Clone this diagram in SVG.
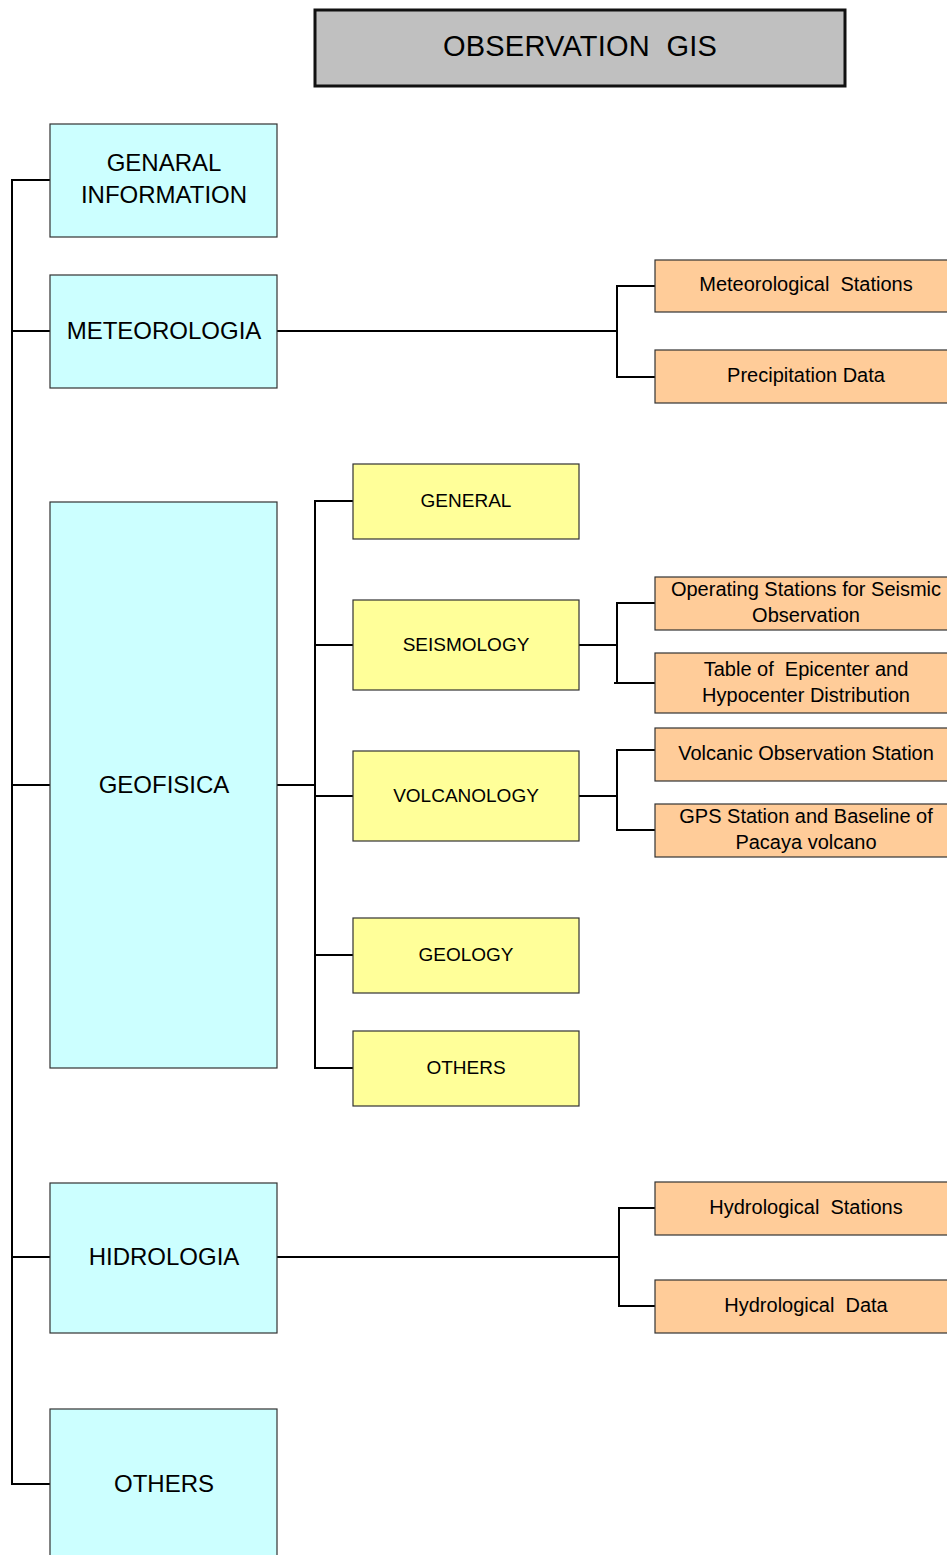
<svg xmlns="http://www.w3.org/2000/svg" width="947" height="1555" viewBox="0 0 947 1555">
  <style>
    text { font-family: "Liberation Sans", Arial, sans-serif; fill: #000; text-anchor: middle; dominant-baseline: central; white-space: pre; }
    .title rect { fill: #c0c0c0; stroke: #111; stroke-width: 3; }
    .title text { font-size: 29px; letter-spacing: 0.2px; }
    .main rect { fill: #ccffff; stroke: #333; stroke-width: 1.2; }
    .main text { font-size: 24px; }
    .sub rect { fill: #ffff99; stroke: #333; stroke-width: 1.2; }
    .sub text { font-size: 19px; }
    .leaf rect { fill: #ffcc99; stroke: #333; stroke-width: 1.2; }
    .leaf text { font-size: 20px; }
    #connectors path { fill: none; stroke: #000; stroke-width: 2; }
  </style>

  <!-- Connectors -->
  <g id="connectors">
    <!-- main spine -->
    <path d="M50,180 H12 V1484 H50 M12,331 H50 M12,785 H50 M12,1257 H50"/>
    <!-- meteorologia branch -->
    <path d="M277,331 H617 M655,286 H617 V377 H655"/>
    <!-- geofisica branch -->
    <path d="M277,785 H315 M353,501 H315 V1068 H353 M315,645 H353 M315,796 H353 M315,955 H353"/>
    <!-- seismology branch -->
    <path d="M579,645 H617 M655,603 H617 V683 H655 M614,683 H617"/>
    <!-- volcanology branch -->
    <path d="M579,796 H617 M655,750 H617 V830 H655"/>
    <!-- hidrologia branch -->
    <path d="M277,1257 H619 M655,1208 H619 V1306 H655"/>
  </g>

  <!-- Title -->
  <g id="title" class="title">
    <rect x="315" y="10" width="530" height="76"/>
    <text x="580" y="46">OBSERVATION  GIS</text>
  </g>

  <!-- Main categories -->
  <g id="general-information" class="main">
    <rect x="50" y="124" width="227" height="113"/>
    <text x="164" y="162">GENARAL</text>
    <text x="164" y="194">INFORMATION</text>
  </g>
  <g id="meteorologia" class="main">
    <rect x="50" y="275" width="227" height="113"/>
    <text x="164" y="330">METEOROLOGIA</text>
  </g>
  <g id="geofisica" class="main">
    <rect x="50" y="502" width="227" height="566"/>
    <text x="164" y="784">GEOFISICA</text>
  </g>
  <g id="hidrologia" class="main">
    <rect x="50" y="1183" width="227" height="150"/>
    <text x="164" y="1256">HIDROLOGIA</text>
  </g>
  <g id="others-main" class="main">
    <rect x="50" y="1409" width="227" height="160"/>
    <text x="164" y="1483">OTHERS</text>
  </g>

  <!-- Geofisica subcategories -->
  <g id="general" class="sub">
    <rect x="353" y="464" width="226" height="75"/>
    <text x="466" y="500">GENERAL</text>
  </g>
  <g id="seismology" class="sub">
    <rect x="353" y="600" width="226" height="90"/>
    <text x="466" y="644">SEISMOLOGY</text>
  </g>
  <g id="volcanology" class="sub">
    <rect x="353" y="751" width="226" height="90"/>
    <text x="466" y="795">VOLCANOLOGY</text>
  </g>
  <g id="geology" class="sub">
    <rect x="353" y="918" width="226" height="75"/>
    <text x="466" y="954">GEOLOGY</text>
  </g>
  <g id="others-sub" class="sub">
    <rect x="353" y="1031" width="226" height="75"/>
    <text x="466" y="1067">OTHERS</text>
  </g>

  <!-- Data layers -->
  <g id="meteorological-stations" class="leaf">
    <rect x="655" y="260" width="300" height="52"/>
    <text x="806" y="284">Meteorological  Stations</text>
  </g>
  <g id="precipitation-data" class="leaf">
    <rect x="655" y="350" width="300" height="53"/>
    <text x="806" y="375">Precipitation Data</text>
  </g>
  <g id="seismic-stations" class="leaf">
    <rect x="655" y="577" width="300" height="53"/>
    <text x="806" y="589">Operating Stations for Seismic</text>
    <text x="806" y="615">Observation</text>
  </g>
  <g id="epicenter-table" class="leaf">
    <rect x="655" y="653" width="300" height="60"/>
    <text x="806" y="669">Table of  Epicenter and</text>
    <text x="806" y="695">Hypocenter Distribution</text>
  </g>
  <g id="volcanic-station" class="leaf">
    <rect x="655" y="728" width="300" height="53"/>
    <text x="806" y="753">Volcanic Observation Station</text>
  </g>
  <g id="gps-station" class="leaf">
    <rect x="655" y="804" width="300" height="53"/>
    <text x="806" y="816">GPS Station and Baseline of</text>
    <text x="806" y="842">Pacaya volcano</text>
  </g>
  <g id="hydrological-stations" class="leaf">
    <rect x="655" y="1182" width="300" height="53"/>
    <text x="806" y="1207">Hydrological  Stations</text>
  </g>
  <g id="hydrological-data" class="leaf">
    <rect x="655" y="1280" width="300" height="53"/>
    <text x="806" y="1305">Hydrological  Data</text>
  </g>
</svg>
